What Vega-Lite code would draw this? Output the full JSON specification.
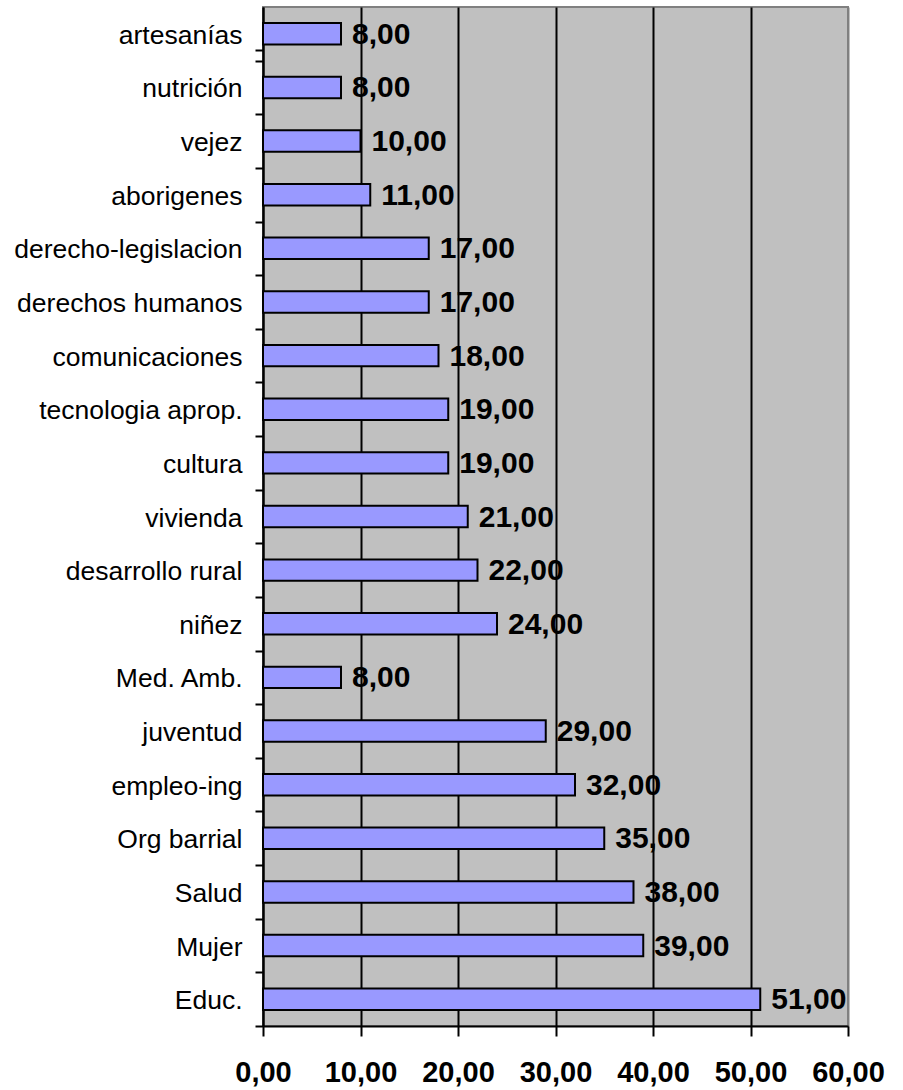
{
  "$schema": "https://vega.github.io/schema/vega-lite/v6.json",
  "autosize": {"type": "none"},
  "padding": {"left": 263, "top": 7, "right": 55, "bottom": 64},
  "width": 585,
  "height": 1019,
  "background": "white",
  "config": {
    "locale": {"number": {"decimal": ",", "thousands": ".", "grouping": [3], "currency": ["$", ""]}},
    "view": {"fill": "#C0C0C0", "stroke": "#808080", "strokeWidth": 2},
    "font": "Liberation Sans"
  },
  "data": {
    "values": [
      {"tema": "artesanías", "valor": 8},
      {"tema": "nutrición", "valor": 8},
      {"tema": "vejez", "valor": 10},
      {"tema": "aborigenes", "valor": 11},
      {"tema": "derecho-legislacion", "valor": 17},
      {"tema": "derechos humanos", "valor": 17},
      {"tema": "comunicaciones", "valor": 18},
      {"tema": "tecnologia aprop.", "valor": 19},
      {"tema": "cultura", "valor": 19},
      {"tema": "vivienda", "valor": 21},
      {"tema": "desarrollo rural", "valor": 22},
      {"tema": "niñez", "valor": 24},
      {"tema": "Med. Amb.", "valor": 8},
      {"tema": "juventud", "valor": 29},
      {"tema": "empleo-ing", "valor": 32},
      {"tema": "Org barrial", "valor": 35},
      {"tema": "Salud", "valor": 38},
      {"tema": "Mujer", "valor": 39},
      {"tema": "Educ.", "valor": 51}
    ]
  },
  "encoding": {
    "y": {
      "field": "tema",
      "type": "nominal",
      "sort": null,
      "scale": {"paddingInner": 0.6, "paddingOuter": 0.3},
      "axis": {
        "title": null,
        "tickOffset": 26.8,
        "tickExtra": true,
        "labelFont": "Liberation Sans",
        "labelFontSize": 26.5,
        "labelColor": "black",
        "labelPadding": 13,
        "labelOffset": -25.3,
        "tickSize": 8,
        "tickColor": "black",
        "tickWidth": 2,
        "domainColor": "black",
        "domainWidth": 2,
        "labelLimit": 400
      }
    },
    "x": {
      "field": "valor",
      "type": "quantitative",
      "scale": {"domain": [0, 60], "nice": false},
      "axis": {
        "title": null,
        "values": [0, 10, 20, 30, 40, 50, 60],
        "format": ".2f",
        "labelFont": "Liberation Sans",
        "labelFontSize": 29,
        "labelFontWeight": "bold",
        "labelColor": "black",
        "labelPadding": 22,
        "labelFlush": false,
        "tickSize": 10,
        "tickColor": "black",
        "tickWidth": 2,
        "domainColor": "black",
        "domainWidth": 2,
        "grid": true,
        "gridColor": {"condition": {"test": "datum.value === 60", "value": "#808080"}, "value": "black"},
        "gridWidth": 2
      }
    }
  },
  "layer": [
    {
      "mark": {"type": "bar", "fill": "#9999FF", "stroke": "black", "strokeWidth": 2}
    },
    {
      "mark": {"type": "text", "align": "left", "baseline": "middle", "dx": 11, "dy": 1, "fontSize": 30, "fontWeight": "bold", "color": "black", "font": "Liberation Sans"},
      "encoding": {
        "text": {"field": "valor", "type": "quantitative", "format": ".2f"}
      }
    }
  ]
}
